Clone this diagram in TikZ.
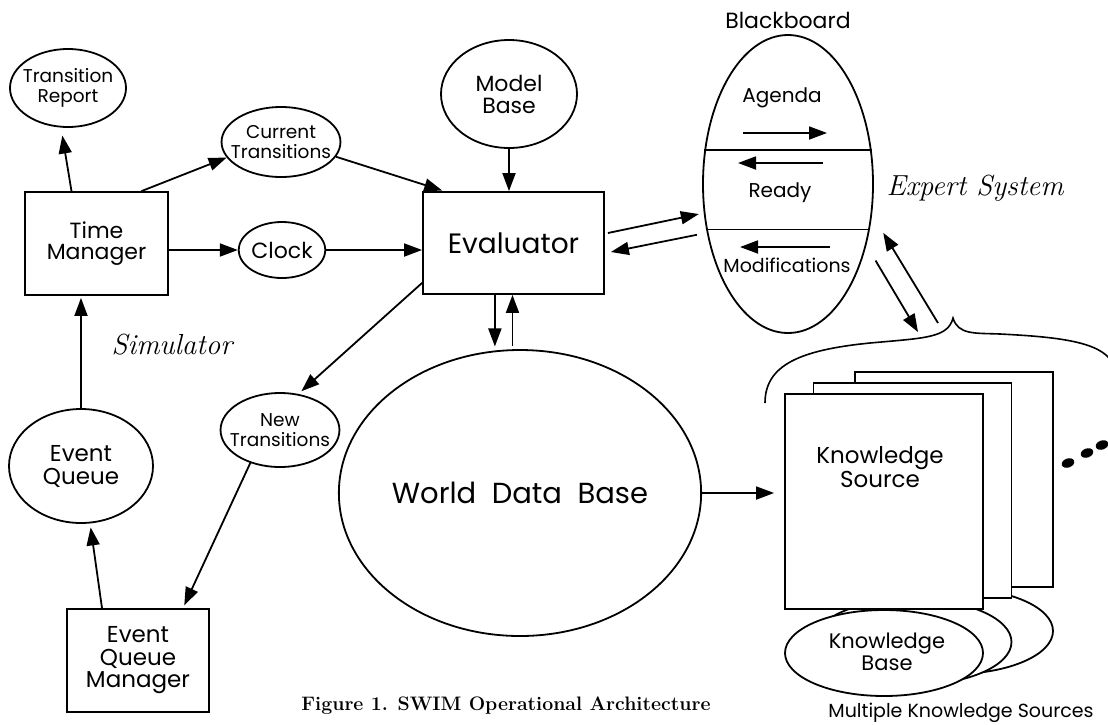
\documentclass[tikz,border=0pt]{standalone}
\usepackage{fontspec}
\usepackage{tikz}
\usetikzlibrary{shapes,arrows.meta,positioning,calc}
\newfontfamily\gfont{Poppins}
\newcommand{\fsz}[2]{\gfont\fontsize{#1}{#2}\selectfont}

\begin{document}
\begin{tikzpicture}[x=1pt,y=-1pt,
    box/.style={draw,line width=1.8pt,inner sep=0pt,align=center,fill=white},
    oval/.style={ellipse,draw,line width=1.8pt,inner sep=0pt,align=center},
    arr/.style={line width=1.8pt,-{Triangle[length=18pt,width=13pt]}}]
    \useasboundingbox (0,0) rectangle (1108,724);
    % simulator side
    \node[oval,inner xsep=-8pt,minimum width=116pt,minimum height=78pt,font=\fsz{18.5}{20}] (tr) at (68,88) {Transition\\Report};
    \node[box,minimum width=143pt,minimum height=103pt,font=\fsz{22}{21}] (tm) at (96.5,243.5) {Time\\Manager};
    \node[oval,inner xsep=-8pt,minimum width=114pt,minimum height=70pt,font=\fsz{18.5}{20}] (ct) at (281,142) {Current\\Transitions};
    \node[oval,minimum width=86pt,minimum height=56pt,font=\fsz{22}{22}] (clk) at (282,250) {Clock};
    \node[oval,inner xsep=-8pt,minimum width=114pt,minimum height=74pt,font=\fsz{18.5}{20}] (nt) at (280,430) {New\\Transitions};
    \node[oval,minimum width=144pt,minimum height=114pt,font=\fsz{23}{23}] (eq) at (81,466) {Event\\Queue};
    \node[box,minimum width=142pt,minimum height=103pt,font=\fsz{23}{22.5}] (eqm) at (138,660.5) {Event\\Queue\\Manager};
    \node[font=\fontsize{29}{29}\selectfont\itshape] (sim) at (172,345) {Simulator};
    % evaluator and data
    \node[oval,minimum width=136pt,minimum height=108pt,font=\fsz{22}{22}] (mb) at (509,94) {Model\\Base};
    \node[box,minimum width=181pt,minimum height=102pt,font=\fsz{28}{28}] (ev) at (513.5,243) {Evaluator};
    \node[oval,minimum width=308pt,minimum height=286pt,font=\fsz{29}{29}] (wdb) at (520,493) {World\ \ Data\ \ Base};
    % blackboard
    \node[oval,minimum width=170pt,minimum height=298pt] (bb) at (788,184) {};
    \node[font=\fsz{22}{22}] (bbl) at (788,20) {Blackboard};
    \node[font=\fsz{20}{20}] (ag) at (782,98) {Agenda};
    \node[font=\fsz{20}{20}] (rd) at (780,193) {Ready};
    \node[font=\fsz{19}{19}] (md) at (787,265) {Modifications};
    \draw[line width=1.5pt] (bb.158) -- (bb.22);
    \draw[line width=1.5pt] (bb.209) -- (bb.-29);
    \draw[arr] ($(bb.center)+(-45,-51)$) -- ($(bb.center)+(39,-51)$);
    \draw[arr] ($(bb.center)+(35,-21)$) -- ($(bb.center)+(-50,-21)$);
    \draw[arr] ($(bb.center)+(42,63)$) -- ($(bb.center)+(-48,63)$);
    \node[font=\fontsize{29}{29}\selectfont\itshape] (es) at (975,188) {Expert System};
    % knowledge sources
    \foreach \n/\dx/\dy in {3/70/-22,2/28.5/-11,1/0/0} {
        \node[box,minimum width=198pt,minimum height=215pt] (ks\n) at ({884+\dx},{501.5+\dy}) {};
        \node[oval,fill=white,minimum width=198pt,minimum height=86pt] (kb\n) at ({884+\dx},{653+\dy}) {};
    }
    \node[font=\fsz{23}{20},align=center] (kst) at (880,467) {Knowledge\\Source};
    \node[font=\fsz{21}{22},align=center] (kbt) at (887,652) {Knowledge\\Base};
    \node[font=\fsz{19}{19}] (mks) at (961,713) {Multiple Knowledge Sources};
    \foreach \x/\y [count=\i] in {1068/463,1087/453,1102/445}
        \node[ellipse,fill,minimum width=13pt,minimum height=9pt,inner sep=0pt,rotate=20] (dot\i) at (\x,\y) {};
    \coordinate (brtip) at (953,318);
    \draw[line width=1.6pt] (765,403) .. controls (765,365) and (800,350) .. (870,343)
        .. controls (925,338) and (948,338) .. (brtip)
        .. controls (958,335) and (975,333) .. (1000,334)
        .. controls (1060,337) and (1100,342) .. (1112,362);
    \node[font=\bfseries\fontsize{19.5}{20}\selectfont] (cap) at (506,706) {Figure 1. SWIM Operational Architecture};
    % connectors
    \draw[arr,shorten >=8pt] ($(tm.north)+(-25,0)$) -- (tr.260);
    \draw[arr] ($(tm.north)+(45,0)$) -- (ct.196);
    \draw[arr] (clk.west -| tm.east) -- (clk.west);
    \draw[arr] (clk.east) -- (clk.east -| ev.west);
    \draw[arr,shorten >=2pt] (ct.-15) -- ($(ev.north west)+(22,0)$);
    \draw[arr] (mb.south) -- (mb.south |- ev.north);
    \draw[arr,shorten >=4pt] (ev.south -| wdb.100) -- (wdb.100);
    \draw[arr,shorten <=3pt] (wdb.93) -- (wdb.93 |- ev.south);
    \draw[arr,shorten >=5pt] ($(ev.east)+(3,-10)$) -- (bb.199);
    \draw[arr,shorten <=10pt] (bb.211) -- ($(ev.east)+(6,9)$);
    \draw[arr] ($(bb.-45)+(13,2)$) -- ($(brtip)+(-35,14)$);
    \draw[arr] ($(brtip)+(-15,5)$) -- ($(bb.-31)+(14,0)$);
    \draw[arr,shorten >=10pt] (wdb.east) -- (wdb.east -| ks1.west);
    \draw[arr,shorten >=4pt] ($(ev.south west)+(0,-12)$) -- (nt.63);
    \draw[arr,shorten >=3pt] (nt.228) -- ($(eqm.north)+(45,0)$);
    \draw[arr,shorten >=4pt] ($(eqm.north)+(-36,0)$) -- (eq.-81);
    \draw[arr,shorten >=2pt] (eq.north) -- (eq.north |- tm.south);
\end{tikzpicture}
\end{document}
